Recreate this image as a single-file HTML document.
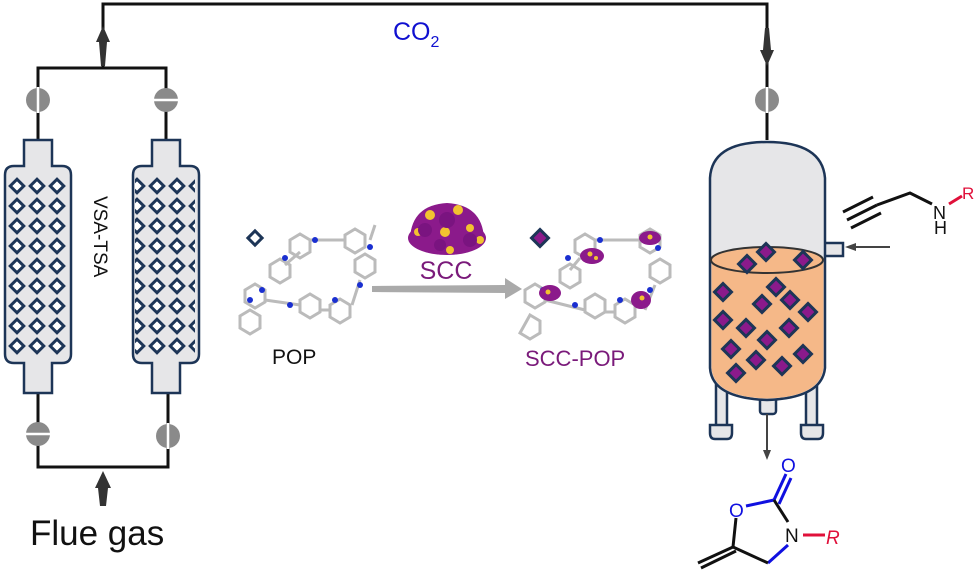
<!DOCTYPE html>
<html><head><meta charset="utf-8"><style>
html,body{margin:0;padding:0;background:#fff;}
svg{display:block;}
text{font-family:"Liberation Sans",Arial,sans-serif;}
</style></head><body>
<svg width="979" height="578" viewBox="0 0 979 578" xmlns="http://www.w3.org/2000/svg">
<defs>
<g id="d"><rect x="-5" y="-5" width="10" height="10" transform="rotate(45)" fill="#fff" stroke="#1d3557" stroke-width="3"/></g>
<g id="pd"><rect x="-6" y="-6" width="12" height="12" transform="rotate(45)" fill="#8b1a8b" stroke="#1d3557" stroke-width="3"/></g>
<pattern id="grid" x="7" y="176" width="20" height="20" patternUnits="userSpaceOnUse">
<rect x="-4.8" y="-4.8" width="9.6" height="9.6" transform="translate(10,10) rotate(45)" fill="#fff" stroke="#1d3557" stroke-width="3"/>
</pattern>
</defs>
<!-- piping -->
<g stroke="#111" stroke-width="3" fill="none">
<polyline points="103,68 103,4 767,4 767,140"/>
<polyline points="38,140 38,68 166,68 166,140"/>
<polyline points="38,393 38,467 168,467 168,393"/>
</g>
<!-- arrows -->
<path d="M103,26 L96,42 L99,42 L101,66 L105,66 L107,42 L110,42 Z" fill="#333"/>
<path d="M767,66 L760,50 L763,50 L765,28 L769,28 L771,50 L774,50 Z" fill="#333"/>
<path d="M103,471 L95,488 L98,488 L100,506 L106,506 L108,488 L111,488 Z" fill="#333"/>
<!-- valves -->
<g fill="#8a8a8a">
<circle cx="38" cy="100" r="12"/><circle cx="166" cy="100" r="12"/>
<circle cx="38" cy="434" r="12"/><circle cx="168" cy="436" r="12"/>
<circle cx="767" cy="100" r="12"/>
</g>
<g stroke="#fff" stroke-width="2.5">
<line x1="38" y1="87" x2="38" y2="113"/><line x1="153" y1="100" x2="179" y2="100"/>
<line x1="25" y1="434" x2="51" y2="434"/><line x1="168" y1="423" x2="168" y2="449"/>
<line x1="767" y1="87" x2="767" y2="113"/>
</g>
<!-- columns -->
<g fill="#e6e6e8" stroke="#1d3557" stroke-width="2.5">
<path d="M24,140 H52 V166 H62 Q71,166 71,175 V354 Q71,363 62,363 H52 V393 H24 V363 H14 Q5,363 5,354 V175 Q5,166 14,166 H24 Z"/>
<path d="M152,140 H180 V166 H190 Q199,166 199,175 V354 Q199,363 190,363 H180 V393 H152 V363 H142 Q133,363 133,354 V175 Q133,166 142,166 H152 Z"/>
</g>
<rect x="7" y="176" width="60" height="180" fill="url(#grid)"/>
<rect x="135" y="176" width="60" height="180" fill="url(#grid)"/>
<text x="0" y="0" font-size="19" fill="#111" transform="translate(94,196) rotate(90)">VSA-TSA</text>
<text x="30" y="545" font-size="35" fill="#111">Flue gas</text>
<text x="393" y="40" font-size="25" fill="#1010d0">CO<tspan font-size="16" dy="7">2</tspan></text>
<!-- middle -->
<use href="#d" x="255" y="238"/>
<g stroke="#bbb" stroke-width="3" fill="none">
<path d="M245,290 l10,-6 10,6 0,12 -10,6 -10,-6z M250,310 l10,6 0,12 -10,6 -10,-6 0,-12z M290,240 l10,-6 10,6 0,12 -10,6 -10,-6z M270,265 l10,-6 10,6 0,12 -10,6 -10,-6z M300,300 l10,-6 10,6 0,12 -10,6 -10,-6z M330,305 l10,-6 10,6 0,12 -10,6 -10,-6z M355,260 l10,-6 10,6 0,12 -10,6 -10,-6z M345,235 l10,-6 10,6 0,12 -10,6 -10,-6z"/>
<path d="M265,300 L300,305 M320,310 L330,310 M360,280 L352,305 M310,240 L345,240 M285,265 L300,252 M370,240 L375,225"/>
</g>
<g fill="#1a2fd0"><circle cx="262" cy="290" r="3"/><circle cx="290" cy="305" r="3"/><circle cx="315" cy="240" r="3"/><circle cx="360" cy="285" r="3"/><circle cx="335" cy="300" r="3"/><circle cx="285" cy="258" r="3"/><circle cx="370" cy="247" r="3"/><circle cx="250" cy="300" r="3"/></g>
<text x="272" y="364" font-size="21" fill="#111">POP</text>
<g>
<ellipse cx="447" cy="238" rx="39" ry="17" fill="#8b1a8b"/>
<path d="M410,238 Q412,205 447,203 Q482,205 484,238 Z" fill="#8b1a8b"/>
<g fill="#f2c230"><circle cx="430" cy="215" r="5"/><circle cx="458" cy="210" r="5"/><circle cx="445" cy="232" r="5"/><circle cx="470" cy="228" r="4"/><circle cx="418" cy="232" r="4"/><circle cx="480" cy="240" r="4"/><circle cx="450" cy="250" r="4"/></g>
<g fill="#7a1480"><circle cx="425" cy="230" r="7"/><circle cx="447" cy="220" r="8"/><circle cx="470" cy="240" r="7"/><circle cx="440" cy="245" r="6"/></g>
</g>
<text x="446" y="279" font-size="25" fill="#7a1a7a" text-anchor="middle">SCC</text>
<path d="M372,286 L505,285 L505,278 L522,289 L505,299 L505,293 L372,292 Z" fill="#aaa"/>
<use href="#pd" x="540" y="238"/>
<g stroke="#bbb" stroke-width="3" fill="none">
<path d="M525,290 l10,-6 10,6 0,12 -10,6 -10,-6z M530,315 l10,6 0,12 -10,6 -10,-6z M575,240 l10,-6 10,6 0,12 -10,6 -10,-6z M560,270 l10,-6 10,6 0,12 -10,6 -10,-6z M585,300 l10,-6 10,6 0,12 -10,6 -10,-6z M615,305 l10,-6 10,6 0,12 -10,6 -10,-6z M650,265 l10,-6 10,6 0,12 -10,6 -10,-6z M640,235 l10,-6 10,6 0,12 -10,6 -10,-6z"/>
<path d="M545,300 L585,310 M605,312 L615,312 M655,285 L645,310 M595,240 L640,240 M570,270 L580,258"/>
</g>
<g fill="#1a2fd0"><circle cx="543" cy="290" r="3"/><circle cx="575" cy="305" r="3"/><circle cx="600" cy="240" r="3"/><circle cx="650" cy="290" r="3"/><circle cx="620" cy="300" r="3"/><circle cx="568" cy="258" r="3"/><circle cx="658" cy="248" r="3"/></g>
<g fill="#8b1a8b"><ellipse cx="592" cy="256" rx="12" ry="8"/><ellipse cx="550" cy="293" rx="11" ry="8"/><ellipse cx="641" cy="300" rx="10" ry="9"/><ellipse cx="650" cy="238" rx="11" ry="7"/></g>
<g fill="#f2c230"><circle cx="590" cy="254" r="2.5"/><circle cx="596" cy="258" r="2"/><circle cx="548" cy="292" r="2.5"/><circle cx="642" cy="298" r="2.5"/><circle cx="650" cy="237" r="2.5"/></g>
<text x="525" y="366" font-size="22" fill="#7a1a7a">SCC-POP</text>
<!-- reactor -->
<g fill="#e6e6e8" stroke="#1d3557" stroke-width="2.5">
<rect x="716" y="370" width="11" height="62"/><rect x="806" y="370" width="11" height="62"/>
<path d="M710,425 h22 v8 q0,6 -5,6 h-12 q-5,0 -5,-6z"/>
<path d="M801,425 h22 v8 q0,6 -5,6 h-12 q-5,0 -5,-6z"/>
<rect x="760" y="394" width="16" height="20" rx="3"/>
<path d="M825,243 H843 V256 H825"/>
<path d="M710,178 Q712,142 767,142 Q822,142 825,178 V368 Q822,398 767,400 Q712,398 710,368 Z"/>
</g>
<path d="M711.5,262 V368 Q714,397 767,398.5 Q820,397 823.5,368 V262 Z" fill="#f5b888"/>
<ellipse cx="767" cy="260" rx="56" ry="13" fill="#f5b888" stroke="#333" stroke-width="2"/>
<g>
<use href="#pd" x="766" y="252"/><use href="#pd" x="747" y="264"/><use href="#pd" x="803" y="260"/><use href="#pd" x="776" y="287"/><use href="#pd" x="723" y="292"/><use href="#pd" x="790" y="300"/><use href="#pd" x="762" y="304"/><use href="#pd" x="808" y="312"/><use href="#pd" x="723" y="320"/><use href="#pd" x="746" y="328"/><use href="#pd" x="789" y="328"/><use href="#pd" x="767" y="340"/><use href="#pd" x="731" y="349"/><use href="#pd" x="803" y="354"/><use href="#pd" x="756" y="360"/><use href="#pd" x="782" y="366"/><use href="#pd" x="736" y="373"/>
</g>
<line x1="890" y1="247" x2="852" y2="247" stroke="#444" stroke-width="2"/>
<path d="M845,247 L856,243 L856,251 Z" fill="#444"/>
<line x1="767" y1="414" x2="767" y2="452" stroke="#444" stroke-width="2"/>
<path d="M767,460 L763,450 L771,450 Z" fill="#444"/>
<!-- alkyne -->
<g stroke="#111" stroke-width="3" fill="none">
<line x1="847" y1="220" x2="877" y2="205"/><line x1="843" y1="212" x2="873" y2="197"/><line x1="851" y1="228" x2="881" y2="213"/>
<polyline points="877,205 910,193 932,204"/>
</g>
<text x="933" y="219" font-size="18" fill="#111">N</text>
<text x="934" y="234" font-size="18" fill="#111">H</text>
<line x1="949" y1="204" x2="962" y2="196" stroke="#e0103a" stroke-width="3"/>
<text x="962" y="199" font-size="17" fill="#e0103a">R</text>
<!-- product -->
<g stroke-width="3" fill="none">
<line x1="746" y1="506" x2="774" y2="500" stroke="#1010e0"/>
<line x1="774" y1="500" x2="786" y2="474" stroke="#1010e0"/>
<line x1="779" y1="504" x2="791" y2="478" stroke="#1010e0"/>
<line x1="774" y1="500" x2="788" y2="522" stroke="#111"/>
<line x1="788" y1="545" x2="768" y2="563" stroke="#1010e0"/>
<line x1="768" y1="563" x2="733" y2="547" stroke="#111"/>
<line x1="733" y1="547" x2="736" y2="518" stroke="#111"/>
<line x1="733" y1="547" x2="698" y2="563" stroke="#111"/>
<line x1="736" y1="551" x2="701" y2="568" stroke="#111"/>
<line x1="803" y1="535" x2="825" y2="535" stroke="#e0103a"/>
</g>
<text x="781" y="472" font-size="19" fill="#1010e0">O</text>
<text x="729" y="517" font-size="19" fill="#1010e0">O</text>
<text x="785" y="542" font-size="19" fill="#111">N</text>
<text x="826" y="544" font-size="19" fill="#e0103a" font-style="italic">R</text>
</svg>
</body></html>
